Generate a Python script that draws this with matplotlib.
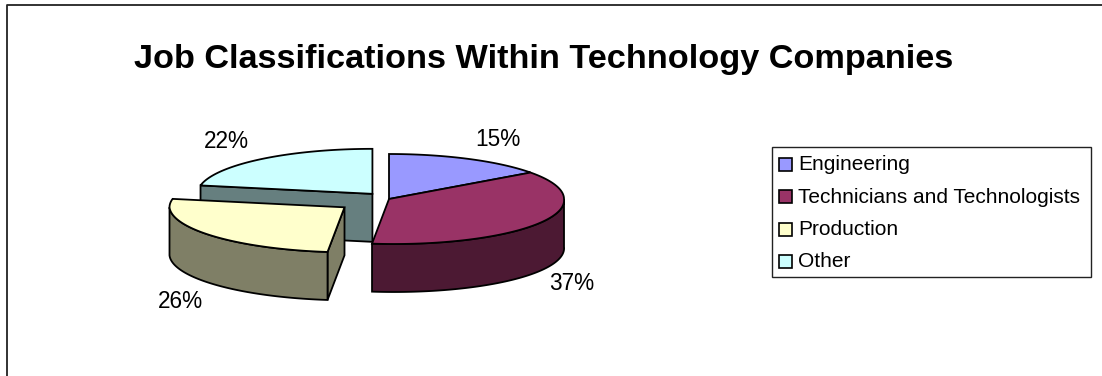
import numpy as np
import matplotlib
matplotlib.use("Agg")
import matplotlib.pyplot as plt
from matplotlib.patches import Polygon, Rectangle

categories = ["Engineering", "Technicians and Technologists", "Production", "Other"]
shares = [15, 37, 26, 22]
explode = [0, 0, 55, 26]

top_colors = ["#9999FF", "#993366", "#FFFFCC", "#CCFFFF"]
wall_colors = ["#4C4C7F", "#4C1933", "#7F7F66", "#667F7F"]

# pie geometry in pixels
cx, cy = 389, 199
rx, ry = 175, 45
depth = 48
front_skew = 5
lw = 1.3


def pt(ang, ox, oy):
    # angle in degrees, clockwise from the top of the ellipse
    a = np.radians(ang)
    x = ox + rx * np.sin(a) + front_skew * np.clip(-np.cos(a), 0, 1)
    return x, oy - ry * np.cos(a)


def draw_slice(i, a0, a1, ox, oy, z):
    # cut faces that can be seen from the front
    if i == 3:
        x1, y1 = pt(a0, ox, oy)
        ax.add_patch(Polygon([(x1, y1), (ox, oy), (ox, oy + depth), (x1, y1 + depth)],
                             fc=wall_colors[i], ec="black", lw=lw, zorder=z))
    if i == 2:
        x1, y1 = pt(a0, ox, oy)
        ax.add_patch(Polygon([(ox, oy), (x1, y1), (x1, y1 + depth), (ox, oy + depth)],
                             fc=wall_colors[i], ec="black", lw=lw, zorder=z))
    # outer rim, front half of the ellipse only
    lo, hi = max(a0, 90), min(a1, 270)
    if hi > lo:
        xr, yr = pt(np.linspace(lo, hi, 120), ox, oy)
        outline = list(zip(xr, yr)) + list(zip(xr[::-1], yr[::-1] + depth))
        ax.add_patch(Polygon(outline, fc=wall_colors[i], ec="black", lw=lw, zorder=z))
    xs, ys = pt(np.linspace(a0, a1, 120), ox, oy)
    top = [(ox, oy)] + list(zip(xs, ys))
    ax.add_patch(Polygon(top, fc=top_colors[i], ec="black", lw=lw, zorder=z + 0.5))


plt.rcParams["font.family"] = ["Liberation Sans", "DejaVu Sans"]
fig = plt.figure(figsize=(11.02, 3.76), dpi=100)
ax = fig.add_axes([0, 0, 1, 1])
ax.set_xlim(0, 1102)
ax.set_ylim(376, 0)
ax.axis("off")

# frame: only the top and left edges are inside the figure
ax.plot([6.5, 6.5, 1102], [376, 5, 5], color="#222222", lw=1.3)

ax.text(543.5, 59.5, "Job Classifications Within Technology Companies",
        fontsize=24.7, fontweight="bold", ha="center", va="center", color="black")

edges = np.cumsum([0] + shares) * 3.6

# back slices first
for order, i in enumerate([3, 0, 1, 2]):
    mid = np.radians((edges[i] + edges[i + 1]) / 2)
    ox = cx + explode[i] * np.sin(mid)
    oy = cy - explode[i] * np.cos(mid) * ry / rx
    draw_slice(i, edges[i], edges[i + 1], ox, oy, 2 + order)

# percentage labels
label_pos = [(498, 140), (572, 283), (180, 302), (226, 142)]
for s, (lx, ly) in zip(shares, label_pos):
    ax.text(lx, ly, f"{s}%", fontsize=16.3, ha="center", va="center", color="black", zorder=10)

# legend box
ax.add_patch(Rectangle((772, 147), 319, 130, fc="white", ec="#222222", lw=1.0, zorder=5))
for k, name in enumerate(categories):
    yy = 164.5 + k * 32.3
    ax.add_patch(Rectangle((779, yy - 6.5), 13, 13, fc=top_colors[k], ec="black", lw=1.2, zorder=6))
    ax.text(798, yy + 0.5, name, fontsize=15, ha="left", va="center", color="black", zorder=6)

fig.savefig("out.png", dpi=100)
